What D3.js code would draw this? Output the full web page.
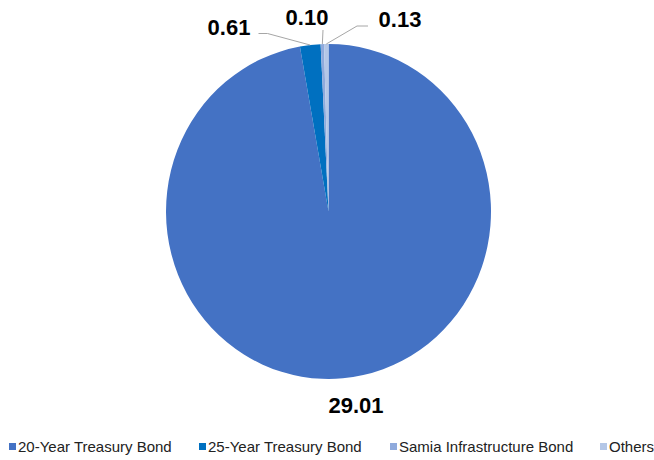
<!DOCTYPE html>
<html>
<head>
<meta charset="utf-8">
<script src="https://cdn.jsdelivr.net/npm/d3@7"></script>
<style>
  body { margin: 0; background: #fff; }
  svg { font-family: "Liberation Sans", Arial, sans-serif; }
</style>
</head>
<body>
<div class="chart"></div>
<script>
const categories = ["20-Year Treasury Bond", "25-Year Treasury Bond", "Samia Infrastructure Bond", "Others"];
const values = [29.01, 0.61, 0.10, 0.13];
const labels = ["29.01", "0.61", "0.10", "0.13"];
const colors = ["#4472C4", "#0070C0", "#8FAADC", "#B4C7E7"];

const width = 654, height = 460;
const cx = 328.5, cy = 211.5, rx = 162.5, ry = 167.5;

const svg = d3.select(".chart").append("svg")
    .attr("width", width)
    .attr("height", height);

const data = categories.map((c, i) => ({name: c, value: values[i], label: labels[i], color: colors[i]}));

const pie = d3.pie().sort(null).value(d => d.value);
const arc = d3.arc().innerRadius(0).outerRadius(rx);
const arcs = pie(data);

// the original pie is a touch taller than wide
const g = svg.append("g").attr("transform", `translate(${cx},${cy}) scale(1,${ry / rx})`);

g.selectAll("path")
    .data(arcs)
    .join("path")
    .attr("d", arc)
    .attr("fill", d => d.data.color);

const lg = svg.append("g").attr("transform", `translate(${cx},${cy})`);

// label positions (relative to centre) and leader line bends
const labelPos = [
    {x: 27.5, y: 201.5, line: null},
    {x: -99.5, y: -176.5, line: [[-70, -178], [-61, -178]]},
    {x: -21.5, y: -186.5, line: [[-5.5, -181.5]]},
    {x: 71.5, y: -184.5, line: [[39.5, -185.5], [28.5, -185.5]]}
];

arcs.forEach((a, i) => {
    const p = labelPos[i];
    if (p.line) {
        const mid = (a.startAngle + a.endAngle) / 2;
        const edge = [Math.sin(mid) * rx, -Math.cos(mid) * ry];
        lg.append("polyline")
            .attr("points", p.line.concat([edge]).map(q => q.join(",")).join(" "))
            .attr("fill", "none")
            .attr("stroke", "#A6A6A6")
            .attr("stroke-width", 1);
    }
    lg.append("text")
        .attr("x", p.x)
        .attr("y", p.y)
        .attr("text-anchor", "middle")
        .attr("font-size", 22)
        .attr("font-weight", "bold")
        .attr("fill", "#000")
        .text(a.data.label);
});

// legend
const legendX = [9, 199, 390, 600];
const legend = svg.append("g").selectAll("g")
    .data(data)
    .join("g")
    .attr("transform", (d, i) => `translate(${legendX[i]},447)`);

legend.append("rect")
    .attr("x", 0).attr("y", -4)
    .attr("width", 7).attr("height", 7)
    .attr("fill", d => d.color);

legend.append("text")
    .attr("x", 9)
    .attr("y", 0)
    .attr("dy", "0.35em")
    .attr("font-size", 15)
    .attr("fill", "#222")
    .text(d => d.name);
</script>
</body>
</html>
